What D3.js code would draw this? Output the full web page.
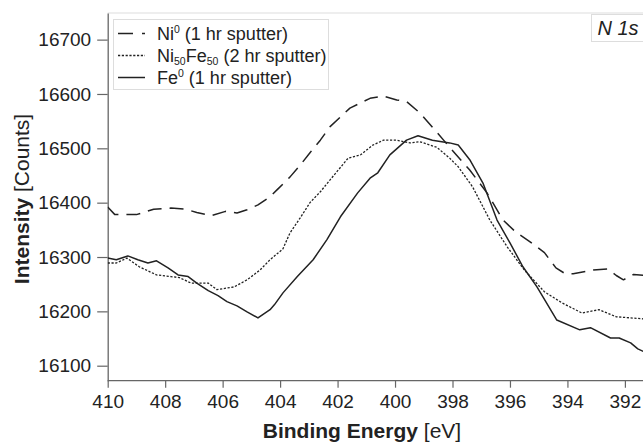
<!DOCTYPE html>
<html>
<head>
<meta charset="utf-8">
<script src="https://cdn.jsdelivr.net/npm/d3@7"></script>
<style>
  html, body { margin: 0; padding: 0; background: #fff; }
  svg { display: block; font-family: "Liberation Sans", Arial, sans-serif; }
</style>
</head>
<body>
<svg id="chart" width="643" height="442"></svg>
<script>
// ---- data ----
const niEnergy = [410.0, 409.75, 409.0, 408.4, 407.8, 407.3, 406.9, 406.4, 405.9, 405.5, 405.15, 404.77, 404.35, 404.1, 403.66, 403.3, 402.96, 402.6, 402.26, 401.57, 400.87, 400.4, 399.94, 399.6, 399.13, 398.55, 398.1, 397.4, 396.8, 396.24, 395.8, 395.3, 394.8, 394.4, 394.1, 393.8, 393.1, 392.6, 392.3, 392.05, 391.7, 391.3];
const niCounts = [16392, 16378, 16378, 16388, 16390, 16388, 16382, 16376, 16384, 16381, 16387, 16396, 16411, 16424, 16447, 16469, 16492, 16515, 16540, 16574, 16592, 16596, 16589, 16586, 16565, 16530, 16502, 16460, 16418, 16368, 16346, 16328, 16308, 16280, 16270, 16269, 16276, 16278, 16266, 16258, 16268, 16266];

const nifeEnergy = [410.0, 409.7, 409.33, 408.9, 408.3, 407.8, 407.5, 407.1, 406.5, 406.2, 405.6, 405.15, 404.7, 404.35, 403.9, 403.66, 403.3, 402.96, 402.6, 402.26, 401.63, 401.2, 400.77, 400.4, 399.94, 399.48, 399.13, 398.55, 398.1, 397.8, 397.3, 396.7, 396.1, 395.5, 394.8, 394.2, 393.5, 392.9, 392.3, 391.3];
const nifeCounts = [16289, 16289, 16298, 16282, 16267, 16264, 16262, 16252, 16252, 16240, 16245, 16258, 16276, 16295, 16315, 16344, 16372, 16400, 16420, 16442, 16482, 16488, 16506, 16515, 16515, 16510, 16512, 16502, 16482, 16466, 16429, 16368, 16319, 16276, 16236, 16216, 16197, 16203, 16190, 16186];

const feEnergy = [410.0, 409.7, 409.3, 408.95, 408.6, 408.3, 407.9, 407.55, 407.2, 406.9, 406.5, 406.16, 405.85, 405.5, 405.15, 404.77, 404.35, 404.2, 403.9, 403.4, 402.85, 402.37, 401.9, 401.3, 400.87, 400.6, 400.18, 399.6, 399.2, 398.7, 398.1, 397.8, 397.4, 396.94, 396.45, 396.0, 395.55, 395.06, 394.37, 393.57, 393.2, 392.5, 392.2, 391.8, 391.55, 391.3];
const feCounts = [16298, 16295, 16302, 16295, 16289, 16293, 16280, 16267, 16264, 16252, 16238, 16229, 16218, 16210, 16199, 16188, 16203, 16212, 16234, 16264, 16295, 16332, 16374, 16418, 16445, 16455, 16488, 16515, 16523, 16515, 16510, 16506, 16479, 16436, 16368, 16326, 16282, 16245, 16184, 16166, 16170, 16151, 16151, 16142, 16131, 16125];

const xTicks = [410, 408, 406, 404, 402, 400, 398, 396, 394, 392];
const yTicks = [16100, 16200, 16300, 16400, 16500, 16600, 16700];

// ---- layout ----
const svg = d3.select("#chart");
const mLeft = 107.7, mRight = 643, mTop = 13, mBottom = 380.7;

const x = d3.scaleLinear().domain([410, 391.37]).range([mLeft, mRight]);
const y = d3.scaleLinear().domain([16072.4, 16749]).range([mBottom, mTop]);

const axisColor = "#666";
const textColor = "#222";

// top frame line (light)
svg.append("line")
  .attr("x1", mLeft).attr("x2", mRight)
  .attr("y1", mTop).attr("y2", mTop)
  .attr("stroke", "#ddd").attr("stroke-width", 1);

// clip
svg.append("clipPath").attr("id", "clip")
  .append("rect").attr("x", mLeft).attr("y", mTop).attr("width", mRight - mLeft).attr("height", mBottom - mTop);

// axes
const xAxis = svg.append("g")
  .attr("transform", `translate(0,${mBottom})`)
  .call(d3.axisBottom(x).tickValues(xTicks).tickFormat(d3.format("d")).tickSize(7).tickPadding(7).tickSizeOuter(0));
const yAxis = svg.append("g")
  .attr("transform", `translate(${mLeft},0)`)
  .call(d3.axisLeft(y).tickValues(yTicks).tickFormat(d3.format("d")).tickSize(10.5).tickPadding(6).tickSizeOuter(0));

[xAxis, yAxis].forEach(g => {
  g.select(".domain").attr("stroke", axisColor).attr("stroke-width", 1.3);
  g.selectAll(".tick line").attr("stroke", axisColor).attr("stroke-width", 1.2);
  g.selectAll(".tick text").attr("fill", textColor)
    .style("font-family", '"Liberation Sans", Arial, sans-serif')
    .style("font-size", "19px");
});
xAxis.select(".domain").attr("d", `M${mLeft},0H${mRight}`);

// lines
const lineGen = d3.line().x(d => x(d[0])).y(d => y(d[1]));
const zip = (a, b) => a.map((v, i) => [v, b[i]]);

const series = [
  { name: "Ni", data: zip(niEnergy, niCounts), dash: "14,8", width: 1.5 },
  { name: "NiFe", data: zip(nifeEnergy, nifeCounts), dash: "2.2,1.6", width: 1.3 },
  { name: "Fe", data: zip(feEnergy, feCounts), dash: null, width: 1.5 }
];

const plot = svg.append("g").attr("clip-path", "url(#clip)");
series.forEach(s => {
  plot.append("path")
    .datum(s.data)
    .attr("d", lineGen)
    .attr("fill", "none")
    .attr("stroke", "#222")
    .attr("stroke-width", s.width)
    .attr("stroke-linejoin", "round")
    .attr("stroke-dasharray", s.dash);
});

// legend
const lg = svg.append("g");
lg.append("rect")
  .attr("x", 113.5).attr("y", 19.5).attr("width", 215).attr("height", 70)
  .attr("fill", "#fff").attr("stroke", "#ddd").attr("stroke-width", 1);

const legendRows = [
  { s: series[0], parts: [["Ni", 0], ["0", 1], [" (1 hr sputter)", 0]] },
  { s: series[1], parts: [["Ni", 0], ["50", -1], ["Fe", 0], ["50", -1], [" (2 hr sputter)", 0]] },
  { s: series[2], parts: [["Fe", 0], ["0", 1], [" (1 hr sputter)", 0]] }
];
const rowY = [39.5, 61.5, 83.5];
legendRows.forEach((r, i) => {
  const cy = rowY[i] - 6;
  lg.append("line")
    .attr("x1", 118).attr("x2", 145)
    .attr("y1", cy).attr("y2", cy)
    .attr("stroke", "#222").attr("stroke-width", r.s.width)
    .attr("stroke-dasharray", r.s.dash === "14,8" ? "15,9" : r.s.dash);
  const t = lg.append("text")
    .attr("x", 157).attr("y", rowY[i])
    .attr("fill", textColor)
    .style("font-size", "18px");
  let shift = 0;
  r.parts.forEach(([txt, kind]) => {
    const target = kind === 1 ? -7 : kind === -1 ? 3 : 0;
    const ts = t.append("tspan").text(txt).attr("dy", target - shift);
    if (kind !== 0) ts.style("font-size", "10.5px");
    shift = target;
  });
});

// N 1s label
svg.append("rect")
  .attr("x", 591.5).attr("y", 14.5).attr("width", 60).attr("height", 27)
  .attr("fill", "#fff").attr("stroke", "#ddd").attr("stroke-width", 1);
svg.append("text")
  .attr("x", 597.5).attr("y", 34.5)
  .attr("fill", textColor)
  .style("font-size", "20px").style("font-style", "italic")
  .text("N 1s");

// axis titles
const xt = svg.append("text")
  .attr("x", 362).attr("y", 438)
  .attr("text-anchor", "middle")
  .attr("fill", textColor)
  .style("font-size", "21px");
xt.append("tspan").style("font-weight", "bold").text("Binding Energy");
xt.append("tspan").text(" [eV]");

const yt = svg.append("text")
  .attr("transform", "translate(29,199) rotate(-90)")
  .attr("text-anchor", "middle")
  .attr("fill", textColor)
  .style("font-size", "21px");
yt.append("tspan").style("font-weight", "bold").text("Intensity");
yt.append("tspan").text(" [Counts]");
</script>
</body>
</html>
